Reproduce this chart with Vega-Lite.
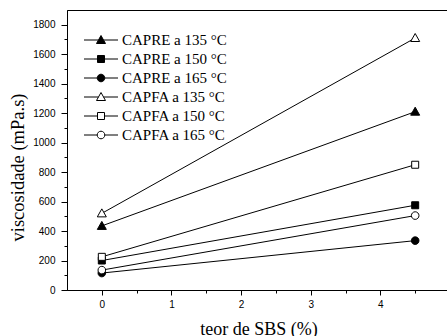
{
  "$schema": "https://vega.github.io/schema/vega-lite/v6.json",
  "width": 383,
  "height": 280,
  "autosize": {"type": "none"},
  "padding": {"left": 67, "top": 10, "right": 0, "bottom": 46},
  "background": "white",
  "config": {
    "view": {"stroke": "black", "strokeWidth": 1},
    "axis": {
      "grid": false,
      "domainColor": "black",
      "tickColor": "black",
      "labelColor": "black",
      "labelFont": "Liberation Sans",
      "labelFontSize": 10,
      "titleFont": "Liberation Serif",
      "titleFontWeight": "normal",
      "titleColor": "black"
    },
    "legend": {
      "title": null,
      "orient": "none",
      "legendX": 26.5,
      "legendY": 22.5,
      "padding": 0,
      "symbolSize": 64,
      "symbolStrokeColor": "black",
      "symbolStrokeWidth": 1,
      "symbolOpacity": 1,
      "labelFont": "Liberation Serif",
      "labelFontSize": 15,
      "labelColor": "black",
      "labelOffset": 13.5,
      "rowPadding": 3,
      "labelLimit": 300
    }
  },
  "data": {
    "values": [
      {"serie": "CAPRE a 135 °C", "sbs": 0, "visc": 435},
      {"serie": "CAPRE a 135 °C", "sbs": 4.5, "visc": 1210},
      {"serie": "CAPRE a 150 °C", "sbs": 0, "visc": 200},
      {"serie": "CAPRE a 150 °C", "sbs": 4.5, "visc": 575},
      {"serie": "CAPRE a 165 °C", "sbs": 0, "visc": 115},
      {"serie": "CAPRE a 165 °C", "sbs": 4.5, "visc": 335},
      {"serie": "CAPFA a 135 °C", "sbs": 0, "visc": 520},
      {"serie": "CAPFA a 135 °C", "sbs": 4.5, "visc": 1710},
      {"serie": "CAPFA a 150 °C", "sbs": 0, "visc": 225},
      {"serie": "CAPFA a 150 °C", "sbs": 4.5, "visc": 850},
      {"serie": "CAPFA a 165 °C", "sbs": 0, "visc": 135},
      {"serie": "CAPFA a 165 °C", "sbs": 4.5, "visc": 505}
    ]
  },
  "encoding": {
    "x": {
      "field": "sbs",
      "type": "quantitative",
      "scale": {"domain": [-0.5, 5], "nice": false, "zero": false},
      "axis": {
        "title": "teor de SBS (%)",
        "values": [0, 0.5, 1, 1.5, 2, 2.5, 3, 3.5, 4, 4.5],
        "labelExpr": "datum.value % 1 === 0 ? format(datum.value, 'd') : ''",
        "tickSize": {"expr": "datum.value % 1 === 0 ? 5 : 3"},
        "labelPadding": 4,
        "titleFontSize": 18,
        "titleY": 44,
        "titleBaseline": "alphabetic"
      }
    },
    "y": {
      "field": "visc",
      "type": "quantitative",
      "scale": {"domain": [0, 1900], "nice": false},
      "axis": {
        "title": "viscosidade (mPa.s)",
        "values": [0, 100, 200, 300, 400, 500, 600, 700, 800, 900, 1000, 1100, 1200, 1300, 1400, 1500, 1600, 1700, 1800],
        "labelExpr": "datum.value % 200 === 0 ? format(datum.value, 'd') : ''",
        "tickSize": {"expr": "datum.value % 200 === 0 ? 6 : 3"},
        "labelPadding": 6,
        "titleFontSize": 18.5,
        "titleX": -43.5,
        "titleY": 157,
        "titleAngle": -90,
        "titleBaseline": "alphabetic",
        "titleAlign": "center"
      }
    }
  },
  "layer": [
    {
      "mark": {"type": "line", "stroke": "black", "strokeWidth": 1},
      "encoding": {"detail": {"field": "serie"}}
    },
    {
      "mark": {"type": "point", "stroke": "black", "strokeWidth": 1, "opacity": 1, "size": 64},
      "encoding": {
        "shape": {
          "field": "serie",
          "type": "nominal",
          "scale": {
            "domain": ["CAPRE a 135 °C", "CAPRE a 150 °C", "CAPRE a 165 °C", "CAPFA a 135 °C", "CAPFA a 150 °C", "CAPFA a 165 °C"],
            "range": [
              "M0,-1.125L1.125,0.875L-1.125,0.875Z",
              "M-0.875,-0.875H0.875V0.875H-0.875Z",
              "M-0.95,0A0.95,0.95,0,1,0,0.95,0A0.95,0.95,0,1,0,-0.95,0Z",
              "M0,-1.125L1.125,0.875L-1.125,0.875Z",
              "M-0.875,-0.875H0.875V0.875H-0.875Z",
              "M-0.95,0A0.95,0.95,0,1,0,0.95,0A0.95,0.95,0,1,0,-0.95,0Z"
            ]
          },
          "legend": null
        },
        "fill": {
          "field": "serie",
          "type": "nominal",
          "scale": {
            "domain": ["CAPRE a 135 °C", "CAPRE a 150 °C", "CAPRE a 165 °C", "CAPFA a 135 °C", "CAPFA a 150 °C", "CAPFA a 165 °C"],
            "range": ["black", "black", "black", "white", "white", "white"]
          },
          "legend": null
        }
      }
    },
    {
      "transform": [{"filter": "datum.sbs < 0"}],
      "mark": {"type": "point", "stroke": "black", "strokeWidth": 1, "opacity": 1, "size": 64},
      "encoding": {
        "shape": {
          "field": "serie",
          "type": "nominal",
          "scale": {
            "domain": ["CAPRE a 135 °C", "CAPRE a 150 °C", "CAPRE a 165 °C", "CAPFA a 135 °C", "CAPFA a 150 °C", "CAPFA a 165 °C"],
            "range": [
              "M-4.25,0H-0.633M0.633,0H4.25M0,-1.125L1.125,0.875L-1.125,0.875Z",
              "M-4.25,0H-0.875M0.875,0H4.25M-0.875,-0.875H0.875V0.875H-0.875Z",
              "M-4.25,0H-0.95M0.95,0H4.25M-0.95,0A0.95,0.95,0,1,0,0.95,0A0.95,0.95,0,1,0,-0.95,0Z",
              "M-4.25,0H-0.633M0.633,0H4.25M0,-1.125L1.125,0.875L-1.125,0.875Z",
              "M-4.25,0H-0.875M0.875,0H4.25M-0.875,-0.875H0.875V0.875H-0.875Z",
              "M-4.25,0H-0.95M0.95,0H4.25M-0.95,0A0.95,0.95,0,1,0,0.95,0A0.95,0.95,0,1,0,-0.95,0Z"
            ]
          },
          "legend": {
            "encode": {"symbols": {"update": {"stroke": {"value": "black"}, "strokeWidth": {"value": 1}}}}
          }
        },
        "fill": {
          "field": "serie",
          "type": "nominal",
          "scale": {
            "domain": ["CAPRE a 135 °C", "CAPRE a 150 °C", "CAPRE a 165 °C", "CAPFA a 135 °C", "CAPFA a 150 °C", "CAPFA a 165 °C"],
            "range": ["black", "black", "black", "white", "white", "white"]
          },
          "legend": {
            "encode": {"symbols": {"update": {"stroke": {"value": "black"}, "strokeWidth": {"value": 1}}}}
          }
        }
      }
    }
  ],
  "resolve": {
    "scale": {"shape": "independent", "fill": "independent"},
    "legend": {"shape": "independent", "fill": "independent"}
  }
}
